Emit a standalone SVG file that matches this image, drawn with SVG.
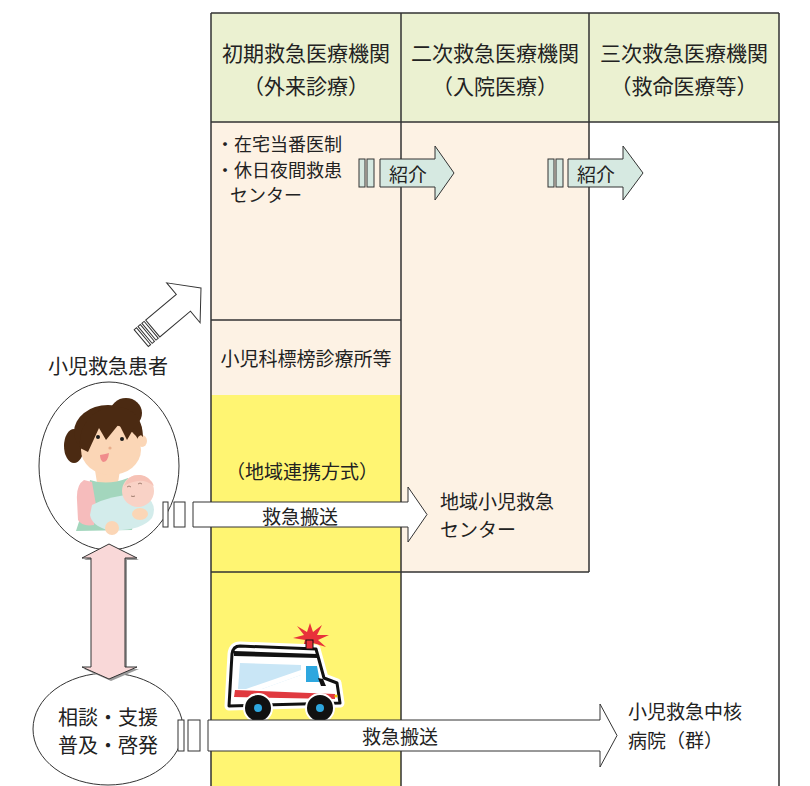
<svg xmlns="http://www.w3.org/2000/svg" width="810" height="786" viewBox="0 0 810 786">
  <style>
    text { font-family: "Noto Sans CJK JP", "Noto Sans", sans-serif; fill: #222; dominant-baseline: central; }
    .hd { font-size: 21px; text-anchor: middle; }
    .t { font-size: 19px; }
    .s { font-size: 18px; }
    .mid { text-anchor: middle; }
    .grid { stroke: #333; stroke-width: 1.5; fill: none; }
    .intro { fill: #D6E9E1; stroke: #333; stroke-width: 1; }
    .plain { fill: #fff; stroke: #333; stroke-width: 1; }
  </style>

  <!-- column backgrounds -->
  <g id="table">
    <rect x="211" y="13" width="568" height="109" fill="#EBF1D1"/>
    <rect x="211" y="122" width="190" height="273" fill="#FDF2E4"/>
    <rect x="401" y="122" width="188" height="450" fill="#FDF2E4"/>
    <rect x="211" y="395" width="190" height="391" fill="#FFF572"/>
    <path class="grid" d="M211,13 H779 M211,122 H779 M211,13 V786 M401,13 V786 M589,13 V572 M779,13 V786 M211,320 H401 M211,572 H589"/>
  </g>

  <g id="header-primary">
    <text class="hd" x="306" y="52">初期救急医療機関</text>
    <text class="hd" x="306" y="85">（外来診療）</text>
  </g>
  <g id="header-secondary">
    <text class="hd" x="495" y="52">二次救急医療機関</text>
    <text class="hd" x="495" y="85">（入院医療）</text>
  </g>
  <g id="header-tertiary">
    <text class="hd" x="684" y="52">三次救急医療機関</text>
    <text class="hd" x="684" y="85">（救命医療等）</text>
  </g>

  <g id="primary-care">
    <text class="s" x="216" y="143">・在宅当番医制</text>
    <text class="s" x="216" y="169">・休日夜間救患</text>
    <text class="s" x="230" y="194">センター</text>
  </g>
  <g id="pediatric-clinics">
    <text class="t mid" x="306" y="357">小児科標榜診療所等</text>
  </g>
  <g id="regional-mode">
    <text class="t mid" x="302" y="470">（地域連携方式）</text>
  </g>
  <g id="regional-center">
    <text class="t" x="440" y="500">地域小児救急</text>
    <text class="t" x="440" y="528">センター</text>
  </g>
  <g id="core-hospital">
    <text class="t" x="628" y="710">小児救急中核</text>
    <text class="t" x="628" y="739">病院（群）</text>
  </g>

  <g id="patient">
    <text class="mid" x="108" y="365" font-size="20">小児救急患者</text>
    <ellipse cx="109" cy="466" rx="70" ry="84" fill="#fff" stroke="#333" stroke-width="1"/>
    <!-- mother and baby -->
    <g id="mother">
      <ellipse cx="74" cy="446" rx="10" ry="17" fill="#4B2A12"/>
      <ellipse cx="108" cy="432" rx="34" ry="27" fill="#4B2A12"/>
      <ellipse cx="126" cy="413" rx="16" ry="15" fill="#4B2A12"/>
      <path d="M95,470 L120,470 L118,483 L97,483 Z" fill="#FBD6B6"/>
      <ellipse cx="111" cy="450" rx="30" ry="25" fill="#FBD6B6"/>
      <ellipse cx="142" cy="441" rx="5" ry="6" fill="#FBD6B6"/>
      <path d="M80,448 C78,420 98,406 118,407 C134,408 143,420 143,437 L134,428 L127,440 L119,424 L106,440 L99,428 L88,452 Z" fill="#4B2A12"/>
      <circle cx="98" cy="437" r="2" fill="#1a1a1a"/>
      <circle cx="122" cy="439" r="2" fill="#1a1a1a"/>
      <circle cx="110" cy="448" r="1.6" fill="#E9AE8C"/>
      <path d="M100,455 Q106,454 109,453 Q108,462 103,462 Q100,460 100,455 Z" fill="#F08C8C"/>
      <path d="M90,480 Q108,486 128,478 L138,500 L132,530 L76,531 L86,500 Z" fill="#A3D6BD"/>
      <path d="M84,480 Q76,485 77,500 L78,520 Q82,527 94,525 L96,505 L92,482 Z" fill="#F6BCBC"/>
      <path d="M92,505 Q118,492 146,496 Q158,505 152,518 Q140,532 108,530 Q92,526 90,515 Z" fill="#D3ECEB"/>
      <circle cx="138" cy="491" r="16" fill="#F9D2C6"/>
      <path d="M124,486 Q128,474 140,475 Q150,476 154,486 Q146,480 138,481 Q130,482 124,486 Z" fill="#F6C2B6"/>
      <path d="M127,487 q2,-2 4,0 M138,484 q2,-2 4,0 M131,496 q2,1 4,0" stroke="#8a6a5a" stroke-width="0.8" fill="none"/>
      <ellipse cx="140" cy="514" rx="8" ry="6" fill="#FBD6B6"/>
      <ellipse cx="112" cy="528" rx="7" ry="7" fill="#FBD6B6"/>
    </g>
  </g>

  <g id="support">
    <ellipse cx="108" cy="729" rx="75" ry="56" fill="#fff" stroke="#333" stroke-width="1"/>
    <text class="mid" x="108" y="716" font-size="20">相談・支援</text>
    <text class="mid" x="108" y="744" font-size="20">普及・啓発</text>
  </g>

  <!-- ambulance -->
  <g id="ambulance">
    <path d="M310,623 L313,632 L322,625 L317,635 L329,635 L318,640 L326,647 L313,643 L303,647 L305,640 L293,638 L304,635 L297,626 L307,632 Z" fill="#E8323A"/>
    <path d="M240,646 L316,649 L324,678 L337,683 L340,703 L229,706 L232,654 Q233,646 240,646 Z" fill="#fff" stroke="#fff" stroke-width="9" stroke-linejoin="round"/>
    <path d="M240,646 L316,649 L324,678 L337,683 L340,703 L229,706 L232,654 Q233,646 240,646 Z" fill="#fff" stroke="#111" stroke-width="3" stroke-linejoin="round"/>
    <rect x="306" y="640" width="7" height="9" fill="#E8323A" stroke="#111" stroke-width="1"/>
    <path d="M234,651 L317,654 L318,658 L234,656 Z" fill="#111"/>
    <path d="M240,663 L301,665 L301,675 L262,689 L238,689 Z" fill="#C9E6F6"/>
    <path d="M246,689 L301,670 L301,675 L262,689 Z" fill="#fff"/>
    <path d="M306,666 L317,666 L320,682 L306,682 Z" fill="#2EA7DF"/>
    <path d="M318,678 L323,679 L326,686 L321,686 Z" fill="#111"/>
    <path d="M235,690 L335,694 L335,699 L234,697 Z" fill="#E03A40"/>
    <circle cx="336" cy="696" r="1.6" fill="#F2C200"/>
    <circle cx="258" cy="708" r="14" fill="#111" stroke="#fff" stroke-width="2"/>
    <circle cx="258" cy="708" r="4" fill="#2EA7DF"/>
    <circle cx="320" cy="708" r="14" fill="#111" stroke="#fff" stroke-width="2"/>
    <circle cx="320" cy="708" r="4" fill="#2EA7DF"/>
  </g>

  <!-- connectors -->
  <g id="connectors">
    <!-- patient to primary care -->
    <g transform="translate(201,288) rotate(-40)">
      <path class="plain" d="M0,0 L-23,-26 L-23,-11 L-63,-11 L-63,11 L-23,11 L-23,26 Z"/>
      <rect class="plain" x="-68" y="-11" width="3" height="22"/>
      <rect class="plain" x="-73" y="-11" width="3" height="22"/>
      <rect class="plain" x="-78" y="-11" width="3" height="22"/>
    </g>
    <!-- referral arrows -->
    <rect class="intro" x="359" y="159" width="6" height="28"/>
    <rect class="intro" x="367" y="159" width="7" height="28"/>
    <path class="intro" d="M380,159 H435 V146 L454,173 L435,200 V187 H380 Z"/>
    <text class="t" x="389" y="173">紹介</text>
    <rect class="intro" x="548" y="159" width="6" height="28"/>
    <rect class="intro" x="556" y="159" width="7" height="28"/>
    <path class="intro" d="M568,159 H623 V146 L643,173 L623,200 V187 H568 Z"/>
    <text class="t" x="577" y="173">紹介</text>
    <!-- emergency transport to regional center -->
    <rect class="plain" x="163" y="502" width="5" height="25"/>
    <rect class="plain" x="174" y="502" width="11" height="25"/>
    <path class="plain" d="M193,502 H408 V487 L427,514.5 L408,542 V527 H193 Z"/>
    <text class="t mid" x="300" y="515">救急搬送</text>
    <!-- emergency transport to core hospital -->
    <rect class="plain" x="178" y="720" width="6" height="31"/>
    <rect class="plain" x="188" y="720" width="12" height="31"/>
    <path class="plain" d="M208,720 H600 V704 L617,735.5 L600,767 V751 H208 Z"/>
    <text class="t mid" x="400" y="735">救急搬送</text>
    <!-- two-way link between patient and support -->
    <path d="M111,546 L139,560 L127,560 L127,669 L139,669 L111,681 L84,669 L93,669 L93,560 L84,560 Z" fill="#9a9a9a"/>
    <path d="M109,544 L137,558 L125,558 L125,667 L137,667 L109,679 L82,667 L91,667 L91,558 L82,558 Z" fill="#F9D8D8" stroke="#333" stroke-width="1"/>
  </g>
</svg>
